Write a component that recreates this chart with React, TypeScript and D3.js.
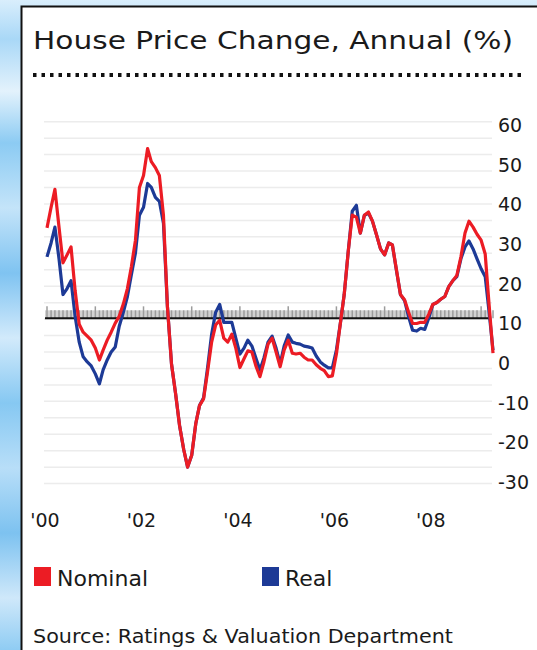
import React, { useRef, useEffect } from 'react';
import * as d3 from 'd3';

// monthly annual % change, Jan 2000 .. Apr 2009
const nominal = [
  32.8, 38, 42.5, 33, 24, 26, 28, 17, 8.5, 6.5, 5.5, 4.5,
  2.5, -0.5, 2, 4.5, 6.5, 8.8, 10.5, 13.6, 17.5, 23, 29.7, 43,
  46, 52.8, 49.5, 48, 46, 36, 13, -1.5, -9, -17, -23, -27.5,
  -24.5, -16.5, -12, -10.3, -3.5, 4, 8.3, 9.5, 5, 4, 6, 2.5,
  -2.4, -0.2, 1.8, 1.5, -2, -4.7, -1, 3.5, 5, 1.5, -2.2, 2,
  4.5, 1.2, 1, 1.2, 0.2, -0.5, -0.5, -1.7, -2.6, -3.2, -4.7, -4.5,
  1, 9, 16, 27, 36, 35.5, 31.5, 36, 36.8, 34.5, 31, 27.5,
  26, 29, 28.5, 22.2, 16, 14.7, 11.6, 8.7, 8.7, 9, 9, 11,
  13.5, 14, 14.8, 15.5, 18, 19.5, 20.8, 25.5, 31.5, 34.5, 33, 31.2,
  29.7, 26.2, 14, 1.2,
];

const real = [
  25.5, 29, 33, 25, 16, 17.5, 19.5, 10.5, 4, 0.3, -1, -2,
  -4, -6.5, -3, -0.5, 1.5, 2.8, 8, 11.5, 15.5, 21, 26.5, 36,
  38, 44, 43, 40.5, 39.5, 34, 13, -1.5, -9, -17, -23, -27.5,
  -24.5, -16.5, -12, -10, -2.5, 6, 11.5, 13.5, 9, 9, 9, 5,
  1, 2.5, 4.5, 3, 0, -3, 0, 4, 5.5, 2.5, -1.5, 3,
  5.8, 4, 3.7, 3.5, 3, 2.8, 2.5, 0.5, -1, -1.8, -2.5, -2.5,
  2, 9, 16, 27, 37, 38.5, 31.5, 36, 36.5, 34.5, 31, 27.5,
  26, 29, 28.5, 22, 16, 14.5, 10.5, 7, 6.8, 7.5, 7.2, 10,
  13.5, 14, 14.8, 15.5, 18, 19.5, 20.5, 25, 28, 29.5, 27.5, 25,
  22.5, 20.5, 12, 2,
];

const yTicks = [60, 50, 40, 30, 20, 10, 0, -10, -20, -30];
const xTickYears = [2000, 2002, 2004, 2006, 2008];
const baselineValue = 10;

const title = 'House Price Change, Annual (%)';
const source = 'Source: Ratings & Valuation Department';
const seriesInfo = [
  { name: 'Nominal', color: '#ec1c24' },
  { name: 'Real', color: '#1d3a96' },
];

const FONT = '"DejaVu Sans", Verdana, sans-serif';

export default function App() {
  const ref = useRef<SVGSVGElement>(null);

  useEffect(() => {
    if (!ref.current) return;
    const svg = d3.select(ref.current);
    svg.selectAll('*').remove();

    const W = 537;
    const H = 650;

    // sky behind the panel
    const defs = svg.append('defs');
    const sky = defs.append('linearGradient')
      .attr('id', 'sky').attr('x1', 0).attr('x2', 0).attr('y1', 0).attr('y2', 1);
    [
      [0, '#d9eefc'], [0.06, '#a9d8f7'], [0.14, '#e3f2fc'], [0.22, '#8ccbf3'],
      [0.32, '#c4e4f9'], [0.42, '#7fc3f1'], [0.52, '#d2eafb'], [0.62, '#86c8f2'],
      [0.72, '#b8def8'], [0.82, '#7dc2f0'], [0.92, '#cfe8fa'], [1, '#8fccf3'],
    ].forEach(([o, c]) => sky.append('stop').attr('offset', o as number).attr('stop-color', c as string));

    svg.append('rect').attr('width', W).attr('height', H).attr('fill', 'url(#sky)');
    svg.append('rect').attr('x', 22).attr('y', 7).attr('width', W - 22).attr('height', H - 7).attr('fill', '#fff');
    svg.append('path')
      .attr('d', `M21.5,${H} L21.5,6.5 L${W},6.5`)
      .attr('fill', 'none').attr('stroke', '#111').attr('stroke-width', 2);

    // title + dotted rule
    svg.append('text')
      .attr('x', 33).attr('y', 49)
      .attr('font-family', FONT).attr('font-size', 24).attr('fill', '#1a1a1a')
      .attr('textLength', 480).attr('lengthAdjust', 'spacingAndGlyphs')
      .text(title);
    svg.append('line')
      .attr('x1', 33).attr('x2', 521).attr('y1', 75).attr('y2', 75)
      .attr('stroke', '#111').attr('stroke-width', 4).attr('stroke-dasharray', '3.5 5');

    const months = d3.timeMonth.range(new Date(2000, 0, 1), new Date(2009, 4, 1));
    const x = d3.scaleTime()
      .domain([new Date(2000, 0, 1), new Date(2009, 3, 1)])
      .range([47, 493]);
    const y = d3.scaleLinear().domain([60, -30]).range([120, 477]);

    // faint background rules
    const grid = d3.scaleLinear().domain([0, 22]).range([121.7, 483.6]);
    svg.append('g').selectAll('line').data(d3.range(23)).enter().append('line')
      .attr('x1', 44).attr('x2', 492)
      .attr('y1', d => grid(d)).attr('y2', d => grid(d))
      .attr('stroke', '#ececec').attr('stroke-width', 1.5);

    // axis band with monthly ticks
    const y10 = y(baselineValue);
    svg.append('rect')
      .attr('x', 45).attr('y', y10 - 8).attr('width', 446).attr('height', 8)
      .attr('fill', '#d2d2d2');
    svg.append('g').selectAll('line').data(months).enter().append('line')
      .attr('x1', d => x(d)).attr('x2', d => x(d))
      .attr('y1', d => y10 - (d.getMonth() === 0 ? 12 : 8)).attr('y2', y10)
      .attr('stroke', '#9c9c9c').attr('stroke-width', 1.5);
    svg.append('line')
      .attr('x1', 45).attr('x2', 491).attr('y1', y10).attr('y2', y10)
      .attr('stroke', '#111').attr('stroke-width', 2);

    // y labels on the right
    svg.append('g').selectAll('text').data(yTicks).enter().append('text')
      .attr('x', 498).attr('y', d => y(d) + 12)
      .attr('font-family', FONT).attr('font-size', 19).attr('fill', '#1a1a1a')
      .text(d => String(d));

    // x labels
    svg.append('g').selectAll('text').data(xTickYears).enter().append('text')
      .attr('x', d => x(new Date(d, 0, 1)) - 2).attr('y', 527)
      .attr('text-anchor', 'middle')
      .attr('font-family', FONT).attr('font-size', 19).attr('fill', '#1a1a1a')
      .text(d => `'${String(d).slice(2)}`);

    const line = d3.line<number>()
      .x((_, i) => x(months[i]))
      .y(d => y(d))
      .curve(d3.curveLinear);

    svg.append('path').datum(real)
      .attr('fill', 'none').attr('stroke', seriesInfo[1].color)
      .attr('stroke-width', 3.2).attr('stroke-linejoin', 'round')
      .attr('d', line);
    svg.append('path').datum(nominal)
      .attr('fill', 'none').attr('stroke', seriesInfo[0].color)
      .attr('stroke-width', 3.2).attr('stroke-linejoin', 'round')
      .attr('d', line);

    // legend
    const legendX = [34, 262];
    seriesInfo.forEach((s, i) => {
      svg.append('rect')
        .attr('x', legendX[i]).attr('y', 567).attr('width', 17).attr('height', 19)
        .attr('fill', s.color);
      svg.append('text')
        .attr('x', legendX[i] + 23).attr('y', 586)
        .attr('font-family', FONT).attr('font-size', 22).attr('fill', '#1a1a1a')
        .text(s.name);
    });

    svg.append('text')
      .attr('x', 33).attr('y', 643)
      .attr('font-family', FONT).attr('font-size', 20).attr('fill', '#1a1a1a')
      .attr('textLength', 420).attr('lengthAdjust', 'spacingAndGlyphs')
      .text(source);
  }, []);

  return (
    <svg
      ref={ref}
      width={537}
      height={650}
      style={{ position: 'absolute', left: 0, top: 0 }}
    />
  );
}
